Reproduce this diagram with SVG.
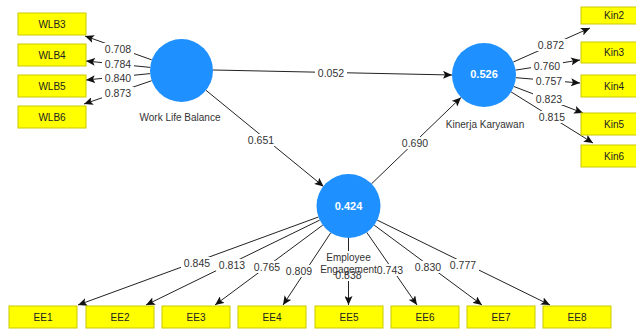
<svg xmlns="http://www.w3.org/2000/svg" width="636" height="329" viewBox="0 0 636 329">
<style>
.bg{fill:#ffffff}
.ind rect{fill:#ffff00;stroke:#c9c900;stroke-width:1}
.ind text{font-family:"Liberation Sans",Arial,sans-serif;font-size:10px;fill:#222;text-anchor:middle}
.lv circle{fill:#1e90ff}
.val{font-family:"Liberation Sans",Arial,sans-serif;font-size:11px;font-weight:bold;fill:#ffffff;text-anchor:middle}
.nl{font-family:"Liberation Sans",Arial,sans-serif;font-size:10px;fill:#333;text-anchor:middle}
#edges line{stroke:#222;stroke-width:1;marker-end:url(#ah)}
.lb rect{fill:#ffffff}
.lb text{font-family:"Liberation Sans",Arial,sans-serif;font-size:10.5px;fill:#333;text-anchor:middle}
</style>
<defs>
<marker id="ah" markerUnits="userSpaceOnUse" markerWidth="10" markerHeight="8" refX="9" refY="4" orient="auto">
<path d="M0,0 L9,4 L0,8 L2,4 z" fill="#111"/>
</marker>
</defs>
<rect class="bg" x="0" y="0" width="636" height="329"/>
<g id="edges">
<line x1="151.8" y1="59.9" x2="85" y2="36"/>
<line x1="150.2" y1="67.4" x2="86" y2="61"/>
<line x1="150.2" y1="73.6" x2="86" y2="80"/>
<line x1="151.7" y1="80.7" x2="84" y2="104"/>
<line x1="213" y1="70" x2="452" y2="75"/>
<line x1="206" y1="90.3" x2="323.6" y2="186.5"/>
<line x1="371.5" y1="183.8" x2="461" y2="97.5"/>
<line x1="513.3" y1="62" x2="590" y2="28"/>
<line x1="515.6" y1="70.1" x2="580" y2="60"/>
<line x1="515.9" y1="77.7" x2="580" y2="83"/>
<line x1="513.9" y1="86.5" x2="583" y2="113"/>
<line x1="511.1" y1="91.9" x2="593" y2="143"/>
<line x1="318.4" y1="217" x2="78" y2="305"/>
<line x1="319.7" y1="220.1" x2="146" y2="305"/>
<line x1="322.8" y1="225.1" x2="215" y2="305"/>
<line x1="330.8" y1="232.7" x2="283" y2="305"/>
<line x1="348.5" y1="238" x2="348.5" y2="305"/>
<line x1="366.7" y1="232.3" x2="417" y2="305"/>
<line x1="374.2" y1="225.1" x2="482" y2="305"/>
<line x1="377.2" y1="220.1" x2="550" y2="305"/>
</g>
<g id="edge-labels" class="lb">
<rect x="102" y="43" width="32" height="12"/><text x="118" y="52.8">0.708</text>
<rect x="102" y="58" width="32" height="12"/><text x="118" y="67.8">0.784</text>
<rect x="102" y="72" width="32" height="12"/><text x="118" y="81.8">0.840</text>
<rect x="102" y="87" width="32" height="12"/><text x="118" y="96.8">0.873</text>
<rect x="315" y="67" width="32" height="12"/><text x="331" y="76.8">0.052</text>
<rect x="245" y="134" width="32" height="12"/><text x="261" y="143.8">0.651</text>
<rect x="399" y="137" width="32" height="12"/><text x="415" y="146.8">0.690</text>
<rect x="535" y="39" width="32" height="12"/><text x="551" y="48.8">0.872</text>
<rect x="531" y="60" width="32" height="12"/><text x="547" y="69.8">0.760</text>
<rect x="533" y="75" width="32" height="12"/><text x="549" y="84.8">0.757</text>
<rect x="533" y="93" width="32" height="12"/><text x="549" y="102.8">0.823</text>
<rect x="536" y="111" width="32" height="12"/><text x="552" y="120.8">0.815</text>
<rect x="181" y="257" width="32" height="12"/><text x="197" y="266.8">0.845</text>
<rect x="216" y="259" width="32" height="12"/><text x="232" y="268.8">0.813</text>
<rect x="251" y="261" width="32" height="12"/><text x="267" y="270.8">0.765</text>
<rect x="284" y="265" width="30" height="12"/><text x="299" y="274.8">0.809</text>
<rect x="334" y="251" width="29" height="30"/><text x="348.5" y="278.8">0.838</text>
<rect x="374" y="264" width="32" height="12"/><text x="390" y="273.8">0.743</text>
<rect x="412" y="261" width="32" height="12"/><text x="428" y="270.8">0.830</text>
<rect x="447" y="259" width="32" height="12"/><text x="463" y="268.8">0.777</text>
</g>
<g id="WLB" class="lv"><circle cx="181.5" cy="70.5" r="31.5"/><text class="nl" x="180" y="120.5">Work Life Balance</text></g>
<g id="KIN" class="lv"><circle cx="484" cy="75" r="32"/><text class="val" x="484" y="77.5">0.526</text><text class="nl" x="485" y="127.5">Kinerja Karyawan</text></g>
<g id="EE" class="lv"><circle cx="348.5" cy="206" r="32"/><text class="val" x="348.5" y="209.5">0.424</text><text class="nl" x="348.5" y="260.5">Employee</text><text class="nl" x="348.5" y="272.5">Engagement</text></g>
<g id="WLB3" class="ind"><rect x="18" y="13" width="68" height="22"/><text x="52" y="27.5">WLB3</text></g>
<g id="WLB4" class="ind"><rect x="18" y="44" width="68" height="22"/><text x="52" y="58.5">WLB4</text></g>
<g id="WLB5" class="ind"><rect x="18" y="75" width="68" height="22"/><text x="52" y="89.5">WLB5</text></g>
<g id="WLB6" class="ind"><rect x="18" y="106" width="68" height="22"/><text x="52" y="120.5">WLB6</text></g>
<g id="Kin2" class="ind"><rect x="581" y="7" width="66" height="17"/><text x="614" y="19">Kin2</text></g>
<g id="Kin3" class="ind"><rect x="581" y="42" width="66" height="21"/><text x="614" y="56">Kin3</text></g>
<g id="Kin4" class="ind"><rect x="581" y="75" width="66" height="22"/><text x="614" y="89.5">Kin4</text></g>
<g id="Kin5" class="ind"><rect x="581" y="113" width="66" height="22"/><text x="614" y="127.5">Kin5</text></g>
<g id="Kin6" class="ind"><rect x="581" y="145" width="66" height="22"/><text x="614" y="159.5">Kin6</text></g>
<g id="EE1" class="ind"><rect x="9" y="306" width="68" height="22"/><text x="43" y="320.5">EE1</text></g>
<g id="EE2" class="ind"><rect x="86" y="306" width="68" height="22"/><text x="120" y="320.5">EE2</text></g>
<g id="EE3" class="ind"><rect x="162" y="306" width="68" height="22"/><text x="196" y="320.5">EE3</text></g>
<g id="EE4" class="ind"><rect x="238" y="306" width="68" height="22"/><text x="272" y="320.5">EE4</text></g>
<g id="EE5" class="ind"><rect x="315" y="306" width="68" height="22"/><text x="349" y="320.5">EE5</text></g>
<g id="EE6" class="ind"><rect x="391" y="306" width="68" height="22"/><text x="425" y="320.5">EE6</text></g>
<g id="EE7" class="ind"><rect x="467" y="306" width="68" height="22"/><text x="501" y="320.5">EE7</text></g>
<g id="EE8" class="ind"><rect x="543" y="306" width="68" height="22"/><text x="577" y="320.5">EE8</text></g>
</svg>
